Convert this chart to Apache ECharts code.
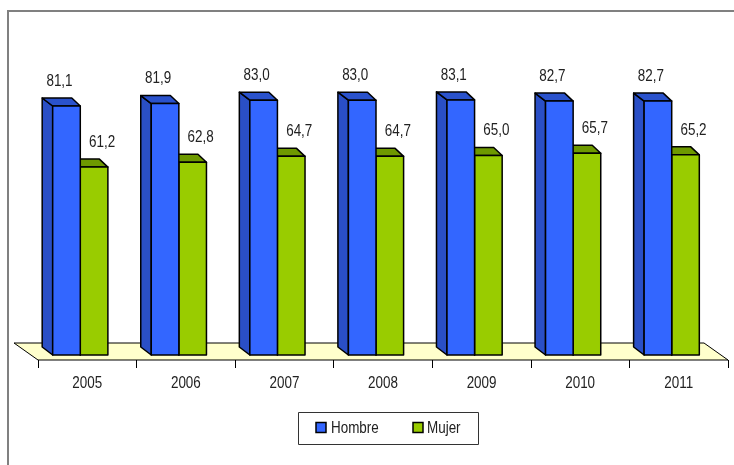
<!DOCTYPE html>
<html>
<head>
<meta charset="utf-8">
<script src="https://cdn.jsdelivr.net/npm/echarts@6/dist/echarts.min.js"></script>
<style>html,body{margin:0;padding:0;background:#fff}#c{width:734px;height:465px}</style>
</head>
<body>
<div id="c"></div>
<script>
var years = ['2005', '2006', '2007', '2008', '2009', '2010', '2011'];
var hombre = [81.1, 81.9, 83.0, 83.0, 83.1, 82.7, 82.7];
var mujer = [61.2, 62.8, 64.7, 64.7, 65.0, 65.7, 65.2];
var seriesNames = ['Hombre', 'Mujer'];
var seriesColors = ['#3366FF', '#99CC00'];

var FONT = "'Liberation Sans', Arial, sans-serif";
var SX = 0.79; // narrow-font look
var chart = echarts.init(document.getElementById('c'), null, {renderer: 'canvas'});

function fmt(v) { return v.toFixed(1).replace('.', ','); }

function barRenderer(side, front, sideCol, topCol) {
  return function (params, api) {
    var idx = api.value(0), val = api.value(1);
    var top = api.coord([idx, val]);
    var base = api.coord([idx, 0]);
    var bw = api.size([1, 0])[0] * 0.28;
    var cx = top[0] - 7;
    var yt = top[1] - 5, yb = base[1] - 5;
    var x0 = side === 'L' ? cx - bw : cx;
    var x1 = side === 'L' ? cx : cx + bw;
    var dl = -10.5, dr = -8.5, dy = -8;
    var ls = {stroke: '#000', lineWidth: 1.5, lineJoin: 'round'};
    var children = [
      {type: 'polygon', shape: {points: [[x0, yb], [x0, yt], [x0 + dl, yt + dy], [x0 + dl, yb + dy]]},
        style: Object.assign({fill: sideCol}, ls)},
      {type: 'polygon', shape: {points: [[x0, yt], [x1, yt], [x1 + dr, yt + dy], [x0 + dl, yt + dy]]},
        style: Object.assign({fill: topCol}, ls)},
      {type: 'rect', shape: {x: x0, y: yt, width: x1 - x0, height: yb - yt},
        style: Object.assign({fill: front}, ls)},
      {type: 'text', x: (x0 + x1) / 2 + (side === 'L' ? -7 : 8), y: yt - 25, scaleX: SX,
        style: {x: 0, y: 0, text: fmt(val), fill: '#222', font: '17px ' + FONT, align: 'center', verticalAlign: 'middle'}}
    ];
    return {type: 'group', children: children};
  };
}

var legendY = 412;
var option = {
  animation: false,
  backgroundColor: '#fff',
  grid: {left: 38, right: 6, top: 53, bottom: 105},
  xAxis: {
    type: 'category', data: years,
    axisLine: {show: false},
    axisTick: {show: true, length: 8, lineStyle: {color: '#000', width: 1}},
    axisLabel: {show: false}
  },
  yAxis: {type: 'value', min: 0, max: 100, show: false},
  graphic: [
    {type: 'rect', shape: {x: 8, y: 11, width: 800, height: 600},
      style: {fill: 'none', stroke: '#808080', lineWidth: 2}, z: -10},
    {type: 'group', left: 298, top: legendY, children: [
      {type: 'rect', shape: {x: 0.5, y: 0.5, width: 180, height: 32},
        style: {fill: '#fff', stroke: '#333', lineWidth: 1}},
      {type: 'rect', shape: {x: 18, y: 10.5, width: 10, height: 10},
        style: {fill: seriesColors[0], stroke: '#000', lineWidth: 1.5}},
      {type: 'text', x: 33, y: 16.5, scaleX: SX,
        style: {x: 0, y: 0, text: seriesNames[0], fill: '#222', font: '17px ' + FONT, align: 'left', verticalAlign: 'middle'}},
      {type: 'rect', shape: {x: 115, y: 10.5, width: 10, height: 10},
        style: {fill: seriesColors[1], stroke: '#000', lineWidth: 1.5}},
      {type: 'text', x: 129, y: 16.5, scaleX: SX,
        style: {x: 0, y: 0, text: seriesNames[1], fill: '#222', font: '17px ' + FONT, align: 'left', verticalAlign: 'middle'}}
    ]}
  ],
  series: [
    {
      name: 'Floor', type: 'custom', z: 1, silent: true,
      data: [[0]],
      renderItem: function (params, api) {
        var cs = params.coordSys;
        var yF = cs.y + cs.height, xL = cs.x, xR = cs.x + cs.width;
        return {type: 'polygon', shape: {points: [[xL, yF], [xR, yF], [xR - 24, yF - 17], [xL - 24, yF - 17]]},
          style: {fill: '#FFFFCC', stroke: '#000', lineWidth: 1}};
      }
    },
    {
      name: 'YearLabels', type: 'custom', z: 1, silent: true,
      data: years.map(function (y, i) { return [i, 0]; }),
      encode: {x: 0, y: 1},
      renderItem: function (params, api) {
        var p = api.coord([api.value(0), 0]);
        return {type: 'text', x: p[0], y: p[1] + 23, scaleX: SX,
          style: {x: 0, y: 0, text: years[params.dataIndex], fill: '#222', font: '17px ' + FONT, align: 'center', verticalAlign: 'middle'}};
      }
    },
    {
      name: seriesNames[0], type: 'custom', z: 4,
      itemStyle: {color: seriesColors[0]},
      data: hombre.map(function (v, i) { return [i, v]; }),
      encode: {x: 0, y: 1},
      renderItem: barRenderer('L', seriesColors[0], '#2A4FC6', '#2A52CC')
    },
    {
      name: seriesNames[1], type: 'custom', z: 3,
      itemStyle: {color: seriesColors[1]},
      data: mujer.map(function (v, i) { return [i, v]; }),
      encode: {x: 0, y: 1},
      renderItem: barRenderer('R', seriesColors[1], '#6E9900', '#6E9900')
    }
  ]
};
chart.setOption(option);
</script>
</body>
</html>
